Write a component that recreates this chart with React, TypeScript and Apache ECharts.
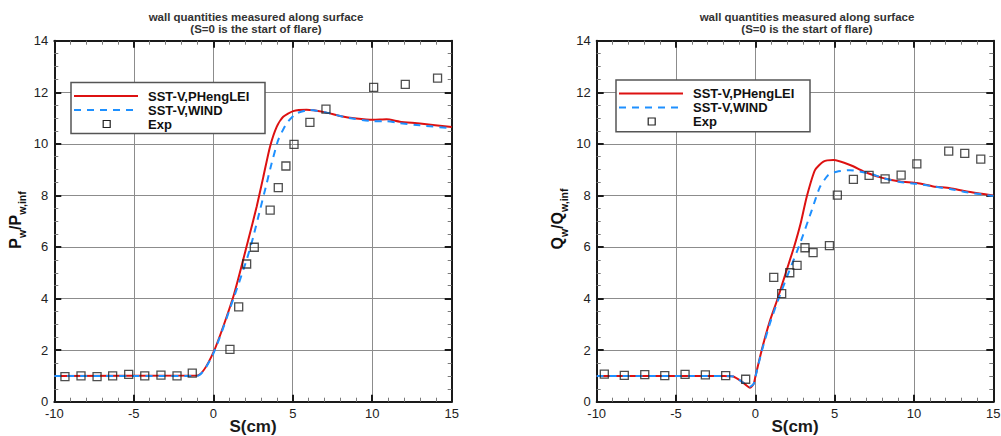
import React, { useEffect, useRef } from "react";
import * as echarts from "echarts";

// ---------- data ----------
const titleLines = ["wall quantities measured along surface", "(S=0 is the start of flare)"];
const legendNames = ["SST-V,PHengLEI", "SST-V,WIND", "Exp"];
const xName = "S(cm)";
const xTickValues = { min: -10, max: 15, interval: 5 };
const yTickValues = { min: 0, max: 14, interval: 2 };

// Left: pressure ratio Pw/Pw,inf
const pPhengLEI: [number, number][] = [
  [-10, 1.0], [-1.0, 1.02], [0, 1.9], [1.26, 4.07], [2.2, 6.27], [2.73, 7.56], [3.15, 8.72],
  [3.57, 9.89], [3.99, 10.66], [4.4, 11.05], [5.03, 11.27], [5.87, 11.32], [6.92, 11.24],
  [7.97, 11.08], [9.0, 10.98], [10.06, 10.93], [10.9, 10.95], [11.74, 10.86], [13.0, 10.79], [15, 10.65],
];
const pWind: [number, number][] = [
  [-10, 1.0], [-1.0, 1.0], [0, 1.86], [1.3, 4.05], [2.1, 5.5], [2.52, 6.4], [2.94, 7.43], [3.31, 8.34],
  [3.67, 9.24], [4.09, 10.15], [4.61, 10.79], [5.24, 11.18], [6.08, 11.31], [7.13, 11.21], [8.4, 11.02],
  [10.06, 10.88], [10.9, 10.88], [11.74, 10.8], [13.0, 10.72], [15, 10.6],
];
const pExp: [number, number][] = [
  [-9.33, 0.97], [-8.32, 1.0], [-7.31, 0.97], [-6.33, 1.0], [-5.32, 1.06], [-4.31, 1.0], [-3.29, 1.03],
  [-2.28, 1.0], [-1.32, 1.11], [1.05, 2.03], [1.6, 3.68], [2.1, 5.34], [2.58, 5.99], [3.58, 7.43],
  [4.09, 8.3], [4.57, 9.14], [5.08, 9.98], [6.08, 10.83], [7.09, 11.35], [10.09, 12.19], [12.08, 12.31],
  [14.11, 12.55],
];

// Right: heat flux ratio Qw/Qw,inf
const qPhengLEI: [number, number][] = [
  [-10, 1.0], [-2.0, 1.0], [-1.39, 0.98], [-0.9, 0.8], [-0.33, 0.54], [-0.1, 0.7], [0, 0.97],
  [0.4, 2.0], [0.9, 3.1], [1.41, 4.0], [1.92, 5.0], [2.44, 6.0], [2.85, 6.9], [3.24, 7.95],
  [3.76, 8.98], [4.29, 9.31], [4.92, 9.37], [5.97, 9.18], [7.02, 8.88], [8.07, 8.67], [9.12, 8.54],
  [10.18, 8.48], [11.22, 8.35], [12.28, 8.28], [13.33, 8.15], [15, 8.0],
];
const qWind: [number, number][] = [
  [-10, 1.0], [-2.0, 1.0], [-1.3, 0.97], [-0.8, 0.75], [-0.35, 0.58], [-0.1, 0.7], [0, 0.95],
  [0.4, 1.95], [0.9, 3.0], [1.41, 3.9], [2.08, 4.98], [2.82, 6.14], [3.56, 7.43], [4.08, 8.34],
  [4.6, 8.79], [5.13, 8.92], [5.97, 8.98], [7.23, 8.85], [8.07, 8.67], [9.12, 8.52], [10.18, 8.45],
  [11.22, 8.35], [12.28, 8.25], [13.33, 8.12], [15, 7.98],
];
const qExp: [number, number][] = [
  [-9.52, 1.07], [-8.26, 1.02], [-6.97, 1.05], [-5.71, 1.01], [-4.43, 1.06], [-3.15, 1.04],
  [-1.87, 1.01], [-0.61, 0.87], [1.16, 4.82], [1.66, 4.19], [2.17, 5.0], [2.63, 5.29], [3.13, 5.97],
  [3.64, 5.78], [4.67, 6.05], [5.17, 8.01], [6.18, 8.62], [7.17, 8.78], [8.18, 8.64], [9.19, 8.79],
  [10.18, 9.22], [12.19, 9.72], [13.2, 9.63], [14.21, 9.41],
];

// ---------- styling ----------
const FONT = "'Liberation Sans', Arial, Helvetica, sans-serif";
const RED = "#dd1111";
const BLUE = "#1e90ff";
const DASH = [7, 6];
const LZ = 100;

const grids = [
  { left: 54.3, top: 40.7, width: 397.4, height: 361 },
  { left: 596.7, top: 40.7, width: 396.6, height: 361 },
];

const axisLine = { show: true, onZero: false, lineStyle: { color: "#1a1a1a", width: 2 } };
const majorTick = { show: true, inside: true, length: 7, lineStyle: { color: "#1a1a1a", width: 2 } };

function makeXAxes(gridIndex: number) {
  const base = {
    type: "value",
    gridIndex,
    ...xTickValues,
    axisLine,
    axisTick: majorTick,
    minorTick: { show: true, splitNumber: 5, length: 4, lineStyle: { color: "#7a7a7a", width: 1 } },
  };
  return [
    {
      ...base,
      position: "bottom",
      axisLabel: { show: true, margin: 5, fontSize: 13, color: "#222", fontFamily: FONT, showMinLabel: true, showMaxLabel: true },
      splitLine: { show: true, lineStyle: { color: "#8c8c8c", width: 1 } },
      name: xName,
      nameLocation: "middle",
      nameGap: 16,
      nameMoveOverlap: false,
      nameTextStyle: { fontSize: 17, fontWeight: "bold", color: "#1a1a1a", fontFamily: FONT },
    },
    { ...base, position: "top", axisLabel: { show: false }, splitLine: { show: false } },
  ];
}

function makeYAxes(gridIndex: number) {
  const base = {
    type: "value",
    gridIndex,
    ...yTickValues,
    axisLine,
    axisTick: majorTick,
    minorTick: { show: true, splitNumber: 4, length: 4, lineStyle: { color: "#7a7a7a", width: 1 } },
  };
  return [
    {
      ...base,
      position: "left",
      axisLabel: { show: true, margin: 6, fontSize: 13, color: "#222", fontFamily: FONT, showMinLabel: true, showMaxLabel: true },
      splitLine: { show: true, lineStyle: { color: "#8c8c8c", width: 1 } },
    },
    { ...base, position: "right", axisLabel: { show: false }, splitLine: { show: false } },
  ];
}

function makeSeries(gridIdx: number, cfd1: [number, number][], cfd2: [number, number][], exp: [number, number][]) {
  const xi = gridIdx * 2;
  const yi = gridIdx * 2;
  return [
    {
      type: "line", name: legendNames[0], xAxisIndex: xi, yAxisIndex: yi, data: cfd1,
      showSymbol: false, smooth: 0.2,
      lineStyle: { color: RED, width: 2 }, z: 3,
    },
    {
      type: "line", name: legendNames[1], xAxisIndex: xi, yAxisIndex: yi, data: cfd2,
      showSymbol: false, smooth: 0.2,
      lineStyle: { color: BLUE, width: 2, type: DASH }, z: 4,
    },
    {
      type: "scatter", name: legendNames[2], xAxisIndex: xi, yAxisIndex: yi, data: exp,
      symbol: "rect", symbolSize: 8,
      itemStyle: { color: "rgba(0,0,0,0)", borderColor: "#222", borderWidth: 1.3 }, z: 5,
    },
  ];
}

function legendGraphic(key: string, x: number, y: number, h: number) {
  const rows = [13.5, 27.5, 41.5];
  return {
    type: "group",
    id: `legend-${key}`,
    x,
    y,
    z: LZ,
    children: [
      { type: "rect", id: `${key}-box`, z: LZ, shape: { x: 0, y: 0, width: 194, height: h }, style: { fill: "#fff", stroke: "#555", lineWidth: 1.5 } },
      { type: "line", id: `${key}-l1`, z: LZ + 1, shape: { x1: 3, y1: rows[0], x2: 67, y2: rows[0] }, style: { stroke: RED, lineWidth: 2 } },
      { type: "line", id: `${key}-l2`, z: LZ + 1, shape: { x1: 3, y1: rows[1], x2: 67, y2: rows[1] }, style: { stroke: BLUE, lineWidth: 2, lineDash: DASH } },
      { type: "rect", id: `${key}-sq`, z: LZ + 1, shape: { x: 32.2, y: rows[2] - 3.5, width: 7, height: 7 }, style: { fill: "none", stroke: "#222", lineWidth: 1.2 } },
      ...legendNames.map((n, i) => ({
        type: "text",
        id: `${key}-t${i}`,
        z: LZ + 1,
        x: 77,
        y: rows[i],
        style: { text: n, fontSize: 13, fontWeight: "bold", fontFamily: FONT, fill: "#111", verticalAlign: "middle", align: "left" },
      })),
    ],
  };
}

function titleGraphic(key: string, cx: number) {
  return {
    type: "text",
    id: `title-${key}`,
    x: cx,
    y: 10.4,
    style: {
      text: titleLines.join("\n"),
      align: "center",
      verticalAlign: "top",
      fontSize: 11.5,
      fontWeight: "bold",
      lineHeight: 12.6,
      fontFamily: FONT,
      fill: "#333",
    },
  };
}

function yNameGraphic(key: string, cx: number, cy: number, letter: string) {
  return {
    type: "text",
    id: `yname-${key}`,
    x: cx,
    y: cy,
    rotation: Math.PI / 2,
    style: {
      text: `{a|${letter}}{b|w}{a|/${letter}}{b|w,inf}`,
      align: "center",
      verticalAlign: "middle",
      fill: "#111",
      rich: {
        a: { fontSize: 16, fontWeight: "bold", lineHeight: 24, fontFamily: FONT, fill: "#111" },
        b: { fontSize: 10.5, fontWeight: "bold", lineHeight: 10, verticalAlign: "bottom", fontFamily: FONT, fill: "#111" },
      },
    },
  };
}

export default function App() {
  const ref = useRef<HTMLDivElement>(null);
  useEffect(() => {
    if (!ref.current) return;
    const chart = echarts.init(ref.current, null, { renderer: "svg" });
    const option: any = {
      animation: false,
      backgroundColor: "#fff",
      grid: grids.map((g) => ({ ...g, containLabel: false, outerBoundsMode: "none" })),
      xAxis: [...makeXAxes(0), ...makeXAxes(1)],
      yAxis: [...makeYAxes(0), ...makeYAxes(1)],
      series: [...makeSeries(0, pPhengLEI, pWind, pExp), ...makeSeries(1, qPhengLEI, qWind, qExp)],
      graphic: {
        elements: [
          titleGraphic("L", 256),
          titleGraphic("R", 807),
          yNameGraphic("L", 15.5, 220, "P"),
          yNameGraphic("R", 557, 219, "Q"),
          legendGraphic("L", 71, 82.5, 51),
          legendGraphic("R", 616, 80, 51.7),
        ],
      },
    };
    chart.setOption(option);
    return () => chart.dispose();
  }, []);
  return <div ref={ref} style={{ position: "absolute", left: 0, top: 0, width: 1001, height: 436 }} />;
}
